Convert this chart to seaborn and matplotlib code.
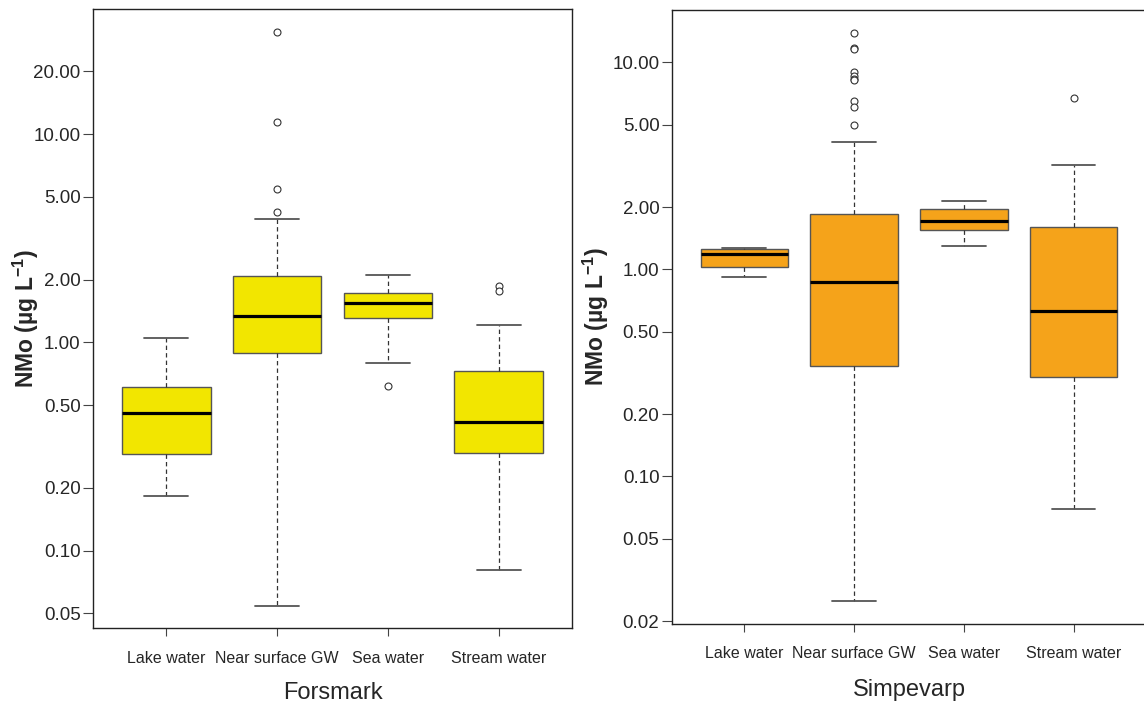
import numpy as np
import pandas as pd
import matplotlib.pyplot as plt
import seaborn as sns
from matplotlib.ticker import FixedLocator, FuncFormatter, NullLocator

# -------------------------------------------------------
# Data: five-number summaries
# (lower whisker, Q1, median, Q3, upper whisker) per water type
# -------------------------------------------------------
categories = ["Lake water", "Near surface GW", "Sea water", "Stream water"]

forsmark_lake = [0.183, 0.291, 0.459, 0.608, 1.05]
forsmark_nsgw = [0.0544, 0.885, 1.34, 2.09, 3.91]
forsmark_sea = [0.798, 1.31, 1.54, 1.72, 2.11]
forsmark_stream = [0.081, 0.293, 0.414, 0.731, 1.21]
forsmark_out_cat = ["Near surface GW"] * 4 + ["Sea water"] + ["Stream water"] * 2
forsmark_out_val = [30.8, 11.4, 5.46, 4.22, 0.619, 1.86, 1.76]

simpevarp_lake = [0.918, 1.03, 1.18, 1.25, 1.27]
simpevarp_nsgw = [0.0249, 0.341, 0.865, 1.85, 4.13]
simpevarp_sea = [1.296, 1.548, 1.706, 1.955, 2.13]
simpevarp_stream = [0.0693, 0.301, 0.631, 1.596, 3.18]
simpevarp_out_cat = ["Near surface GW"] * 10 + ["Stream water"]
simpevarp_out_val = [13.8, 11.7, 11.6, 9.01, 8.61, 8.28, 8.2, 6.50, 6.06, 4.98, 6.75]

forsmark_ticks = [0.05, 0.10, 0.20, 0.50, 1.00, 2.00, 5.00, 10.00, 20.00]
simpevarp_ticks = [0.02, 0.05, 0.10, 0.20, 0.50, 1.00, 2.00, 5.00, 10.00]

# -------------------------------------------------------
# Style
# -------------------------------------------------------
sns.set_style("ticks")
plt.rcParams['font.family'] = ['Liberation Sans', 'DejaVu Sans']
plt.rcParams['mathtext.fontset'] = 'custom'
plt.rcParams['mathtext.rm'] = 'Liberation Sans'
plt.rcParams['mathtext.bf'] = 'Liberation Sans:bold'


def draw_panel(ax, summaries, out_cat, out_val, color, yticks, ylim, xlabel, ylab_x, xlab_pad):
    df = pd.DataFrame({
        "group": np.repeat(categories, 5),
        "value": np.concatenate(summaries),
    })
    sns.boxplot(
        data=df, x="group", y="value", order=categories, ax=ax,
        color=color, saturation=1, width=0.8, whis=np.inf, showfliers=False,
        linecolor="#555555", linewidth=1, log_scale=True,
        medianprops=dict(color="black", linewidth=2.3),
        whiskerprops=dict(color="#333333", linewidth=0.9, linestyle=(0, (3.5, 2.5))),
        capprops=dict(color="#555555", linewidth=1.3),
    )
    # outliers as open circles
    sns.stripplot(
        x=out_cat, y=out_val, order=categories, ax=ax, jitter=False,
        color="white", edgecolor="#333333", linewidth=0.8, size=5,
    )
    ax.set_xlim(-0.66, 3.66)
    ax.set_ylim(*ylim)
    ax.yaxis.set_major_locator(FixedLocator(yticks))
    ax.yaxis.set_major_formatter(FuncFormatter(lambda v, p: f"{v:.2f}"))
    ax.yaxis.set_minor_locator(NullLocator())
    ax.tick_params(axis="y", labelsize=13.5, length=7, width=0.8, pad=2, color="#444444")
    ax.tick_params(axis="x", labelsize=11.5, length=6, width=0.8, pad=10, color="#444444")
    ax.set_xlabel(xlabel, fontsize=17, labelpad=xlab_pad)
    ax.set_ylabel(r"NMo (µg L$^{\mathbf{-1}}$)", fontsize=16.5, fontweight="bold")
    ax.yaxis.set_label_coords(ylab_x, 0.5)
    for sp in ax.spines.values():
        sp.set_visible(True)
        sp.set_color("#222222")
        sp.set_linewidth(1)


fig = plt.figure(figsize=(11.44, 7.04), dpi=100)
ax1 = fig.add_axes([0.0813, 0.1075, 0.4187, 0.8793])
ax2 = fig.add_axes([0.5874, 0.1136, 0.4143, 0.8722])

draw_panel(ax1, [forsmark_lake, forsmark_nsgw, forsmark_sea, forsmark_stream],
           forsmark_out_cat, forsmark_out_val, "#F2E600",
           forsmark_ticks, (0.0424, 39.7), "Forsmark", -0.108, 11.5)
draw_panel(ax2, [simpevarp_lake, simpevarp_nsgw, simpevarp_sea, simpevarp_stream],
           simpevarp_out_cat, simpevarp_out_val, "#F5A31A",
           simpevarp_ticks, (0.01934, 17.9), "Simpevarp", -0.128, 13)

fig.savefig("out.png", dpi=100)
